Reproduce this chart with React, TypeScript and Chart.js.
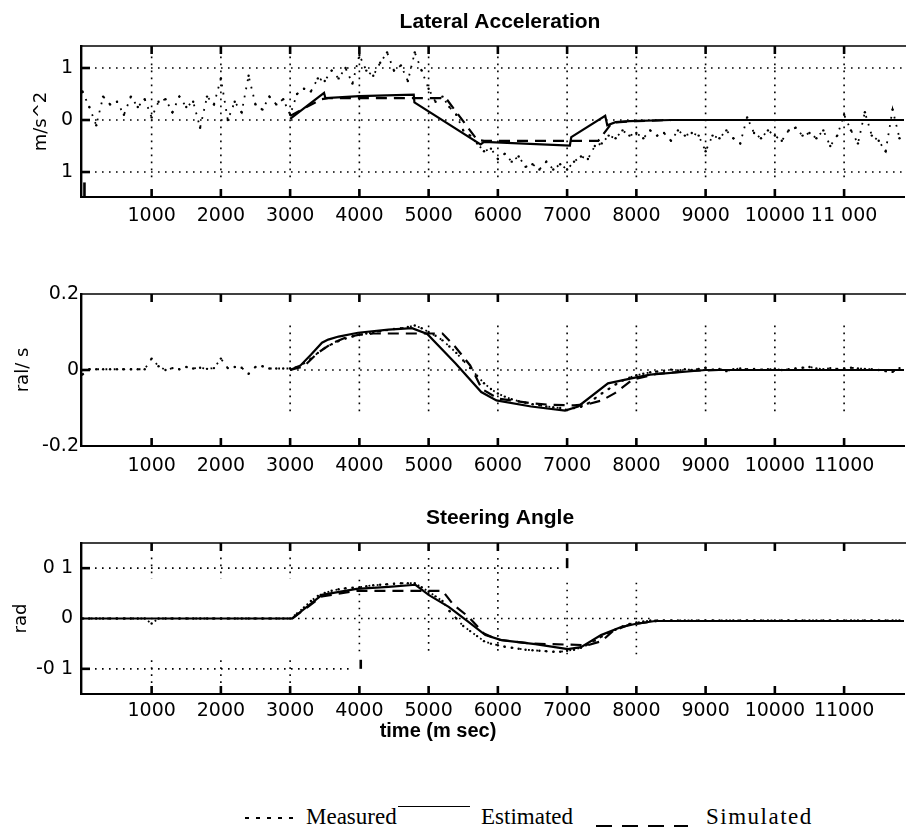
import React, { useEffect, useRef } from "react";
import { Chart, registerables } from "chart.js";

Chart.register(...registerables);

// ---------- shared sample times of the measured signals (ms) ----------
const MEAS_T = [
  0, 100, 200, 300, 400, 500, 600, 700, 800, 900,
  1000, 1100, 1200, 1300, 1400, 1500, 1600, 1700, 1800, 1900,
  2000, 2100, 2200, 2300, 2400, 2500, 2600, 2700, 2800, 2900,
  3000, 3100, 3200, 3300, 3400, 3500, 3600, 3700, 3800, 3900,
  4000, 4100, 4200, 4300, 4400, 4500, 4600, 4700, 4800, 4900,
  5000, 5100, 5200, 5300, 5400, 5500, 5600, 5700, 5800, 5900,
  6000, 6100, 6200, 6300, 6400, 6500, 6600, 6700, 6800, 6900,
  7000, 7100, 7200, 7300, 7400, 7500, 7600, 7700, 7800, 7900,
  8000, 8100, 8200, 8300, 8400, 8500, 8600, 8700, 8800, 8900,
  9000, 9100, 9200, 9300, 9400, 9500, 9600, 9700, 9800, 9900,
  10000, 10100, 10200, 10300, 10400, 10500, 10600, 10700, 10800, 10900,
  11000, 11100, 11200, 11300, 11400, 11500, 11600, 11700, 11800,
];

// ---------- Lateral Acceleration (m/s^2) ----------
const ACC_MEAS = [
  0.55, 0.25, -0.1, 0.45, 0.3, 0.35, 0.1, 0.45, 0.25, 0.4,
  0.05, 0.35, 0.4, 0.15, 0.45, 0.25, 0.35, -0.15, 0.45, 0.3,
  0.8, 0.0, 0.35, 0.15, 0.85, 0.3, 0.2, 0.45, 0.3, 0.4,
  0.1, 0.5, 0.6, 0.55, 0.8, 0.75, 0.95, 0.8, 1.0, 0.7,
  1.25, 0.95, 0.85, 1.1, 1.3, 0.95, 1.05, 0.75, 1.3, 0.95,
  0.6, 0.35, 0.45, 0.25, 0.1, -0.2, -0.3, -0.45, -0.6, -0.55,
  -0.75, -0.65, -0.8, -0.7, -0.9, -0.85, -0.95, -0.8, -0.95, -0.85,
  -0.95, -0.8, -0.7, -0.75, -0.5, -0.45, -0.3, -0.35, -0.2, -0.3,
  -0.25, -0.35, -0.2, -0.3, -0.25, -0.4, -0.2, -0.3, -0.25, -0.3,
  -0.6, -0.3, -0.35, -0.2, -0.35, -0.45, 0.05, -0.25, -0.35, -0.2,
  -0.3, -0.4, -0.2, -0.15, -0.3, -0.25, -0.35, -0.2, -0.5, -0.3,
  0.1, -0.2, -0.45, 0.15, -0.3, -0.4, -0.6, 0.2, -0.35,
];
const ACC_EST_T = [3000, 3490, 3510, 4000, 4785, 4795, 5750, 5800, 7040, 7060, 7550, 7580, 7700, 7900, 8500, 11900];
const ACC_EST = [0.02, 0.52, 0.42, 0.46, 0.49, 0.34, -0.47, -0.42, -0.49, -0.33, 0.08, -0.1, -0.04, -0.02, 0.0, 0.0];
const ACC_SIM_T = [3000, 3450, 3550, 5250, 5700, 5800, 7450, 7650, 8000, 8500, 11900];
const ACC_SIM = [0.08, 0.4, 0.42, 0.42, -0.38, -0.4, -0.4, -0.05, -0.02, 0.0, 0.0];

// ---------- Yaw Rate (rad/s) ----------
const YAW_MEAS = [
  -0.012, 0.002, 0.002, 0.002, 0.002, 0.002, 0.002, 0.002, 0.002, 0.002,
  0.03, 0.01, 0.0, 0.005, 0.002, 0.008, 0.004, 0.006, 0.003, 0.005,
  0.03, 0.005, 0.008, 0.006, -0.01, 0.008, 0.01, 0.004, 0.004, 0.004,
  0.004, 0.008, 0.018, 0.03, 0.045, 0.058, 0.068, 0.076, 0.083, 0.088,
  0.092, 0.096, 0.099, 0.102, 0.105, 0.108, 0.11, 0.113, 0.117, 0.11,
  0.1, 0.09, 0.078, 0.062, 0.045, 0.025, 0.005, -0.015, -0.035, -0.05,
  -0.062, -0.07, -0.077, -0.082, -0.086, -0.09, -0.093, -0.096, -0.098, -0.1,
  -0.105, -0.1, -0.097, -0.088, -0.075, -0.062, -0.05, -0.038, -0.028, -0.02,
  -0.014, -0.01, -0.006, -0.004, -0.002, 0.001, -0.001, 0.002, 0.0, 0.003,
  0.006, 0.001, 0.003, -0.003, 0.002, 0.004, 0.002, 0.003, 0.001, 0.002,
  0.003, 0.0, 0.002, 0.004, 0.006, 0.008, 0.004, 0.002, 0.005, 0.003,
  0.004, 0.006, 0.004, 0.003, 0.002, 0.0, -0.003, -0.005, 0.005,
];
const YAW_EST_T = [3000, 3150, 3300, 3460, 3550, 3700, 3980, 4420, 4760, 4980, 5390, 5760, 5980, 6480, 6970, 7160, 7590, 7980, 8200, 9000, 11900];
const YAW_EST = [0.0, 0.012, 0.04, 0.072, 0.08, 0.088, 0.098, 0.106, 0.11, 0.095, 0.017, -0.058, -0.08, -0.096, -0.107, -0.096, -0.035, -0.02, -0.012, 0.0, 0.0];
const YAW_SIM_T = [3000, 3200, 3400, 3600, 3800, 4000, 4200, 5200, 5380, 5600, 5770, 6000, 6500, 6800, 7100, 7300, 7500, 7690, 7950, 8300, 8800, 9200, 11900];
const YAW_SIM = [0.0, 0.01, 0.045, 0.07, 0.085, 0.093, 0.096, 0.096, 0.062, 0.012, -0.05, -0.075, -0.088, -0.092, -0.093, -0.09, -0.08, -0.061, -0.025, -0.01, -0.002, 0.0, 0.0];

// ---------- Steering Angle (rad) ----------
const STEER_MEAS = [
  0, 0, 0, 0, 0, 0, 0, 0, 0, 0,
  -0.01, 0, 0, 0, 0, 0, 0, 0, 0, 0,
  0, 0, 0, 0, 0, 0, 0, 0, 0, 0,
  0, 0.01, 0.022, 0.035, 0.045, 0.051, 0.055, 0.058, 0.06, 0.061,
  0.062, 0.064, 0.066, 0.067, 0.068, 0.069, 0.07, 0.07, 0.07, 0.062,
  0.053, 0.044, 0.035, 0.015, 0.0, -0.015, -0.025, -0.035, -0.045, -0.05,
  -0.053, -0.056, -0.058, -0.06, -0.062, -0.063, -0.064, -0.065, -0.066, -0.066,
  -0.064, -0.062, -0.058, -0.052, -0.044, -0.036, -0.028, -0.022, -0.016, -0.011,
  -0.008, -0.006, -0.004, -0.004, -0.004, -0.004, -0.004, -0.004, -0.004, -0.004,
  -0.004, -0.004, -0.004, -0.004, -0.004, -0.004, -0.004, -0.004, -0.004, -0.004,
  -0.004, -0.004, -0.004, -0.004, -0.004, -0.004, -0.004, -0.004, -0.004, -0.004,
  -0.004, -0.004, -0.004, -0.004, -0.004, -0.004, -0.004, -0.004, -0.004,
];
const STEER_EST_T = [0, 3030, 3460, 3960, 4420, 4810, 5000, 5290, 5580, 5820, 6050, 6540, 7010, 7200, 7490, 7780, 7980, 8270, 11900];
const STEER_EST = [0.0, 0.0, 0.047, 0.059, 0.063, 0.067, 0.047, 0.023, -0.007, -0.033, -0.043, -0.051, -0.061, -0.057, -0.033, -0.017, -0.011, -0.005, -0.005];
const STEER_SIM_T = [3030, 3460, 3960, 4100, 5200, 5360, 5580, 5800, 6000, 6500, 7300, 7500, 7660, 7900, 8300];
const STEER_SIM = [0.0, 0.044, 0.055, 0.055, 0.055, 0.027, 0.003, -0.03, -0.042, -0.05, -0.053, -0.045, -0.025, -0.012, -0.005];

// ---------- axes / text ----------
const X_TICKS = [1000, 2000, 3000, 4000, 5000, 6000, 7000, 8000, 9000, 10000, 11000];
const X_LABELS_ACC = ["1000", "2000", "3000", "4000", "5000", "6000", "7000", "8000", "9000", "10000", "11 000"];
const X_LABELS_YAW = ["1000", "2000", "3000", "4000", "5000", "6000", "7000", "8000", "9000", "10000", "11000"];
const X_LABELS_STEER = ["1000", "2000", "3000", "4000", "5000", "6000", "7000", "8000", "9000", "10000", "11000"];
const Y_TICKS_ACC = [-1, 0, 1];
const Y_LABELS_ACC = ["1", "0", "1"];
const Y_TICKS_YAW = [-0.2, 0, 0.2];
const Y_LABELS_YAW = ["-0.2", "0", "0.2"];
const Y_TICKS_STEER = [-0.1, 0, 0.1];
const Y_LABELS_STEER = ["-0 1", "0", "0 1"];

const TITLES = ["Lateral Acceleration", "Yaw Rate", "Steering Angle"];
const Y_TITLES = ["m/s^2", "ral/ s", "rad"];
const X_TITLE = "time (m sec)";
const LEGEND = ["Measured", "Estimated", "Simulated"];

const X_MIN = -20;
const X_MAX = 11865;

const pts = (xs: number[], ys: number[]) => xs.map((x, i) => ({ x, y: ys[i] }));

type Seg = { at: number; from: number; to: number };

interface PanelCfg {
  top: number;
  height: number;
  areaTop: number;
  areaBottom: number;
  yMin: number;
  yMax: number;
  meas: number[];
  estT: number[];
  est: number[];
  simT: number[];
  sim: number[];
  xLabels: string[];
  yTicks: number[];
  yLabels: string[];
  title: string;
  titleY: number;
  yTitle: string;
  yTitleSize: number;
  yTitlePad: number;
  yLabelPad: number;
  xLabelPad: number;
  hGrid: Seg[];
  vGrid: Seg[];
  marks: Seg[];
  yTickMarks: number[];
  extraText?: { text: string; x: number; y: number };
}

const DOT_DASH = [1.6, 5.4];

function makeDecor(cfg: PanelCfg) {
  return {
    id: "decor",
    beforeDatasetsDraw(chart: any) {
      const { ctx, scales } = chart;
      const x = scales.x;
      const y = scales.y;
      ctx.save();
      ctx.strokeStyle = "#000";
      ctx.lineWidth = 1.6;
      ctx.setLineDash(DOT_DASH);
      for (const s of cfg.hGrid) {
        const py = y.getPixelForValue(s.at);
        ctx.beginPath();
        ctx.moveTo(x.getPixelForValue(s.from), py);
        ctx.lineTo(x.getPixelForValue(s.to), py);
        ctx.stroke();
      }
      for (const s of cfg.vGrid) {
        const px = x.getPixelForValue(s.at);
        ctx.beginPath();
        ctx.moveTo(px, y.getPixelForValue(s.to));
        ctx.lineTo(px, y.getPixelForValue(s.from));
        ctx.stroke();
      }
      ctx.setLineDash([]);
      ctx.lineWidth = 2.6;
      for (const s of cfg.marks) {
        const px = x.getPixelForValue(s.at);
        ctx.beginPath();
        ctx.moveTo(px, y.getPixelForValue(s.to));
        ctx.lineTo(px, y.getPixelForValue(s.from));
        ctx.stroke();
      }
      ctx.restore();
    },
    afterDraw(chart: any) {
      const { ctx, chartArea, scales } = chart;
      const x = scales.x;
      const y = scales.y;
      ctx.save();
      ctx.strokeStyle = "#000";
      ctx.setLineDash([]);
      // top border
      ctx.lineWidth = 1.6;
      ctx.beginPath();
      ctx.moveTo(chartArea.left, chartArea.top);
      ctx.lineTo(chartArea.right + 2, chartArea.top);
      ctx.stroke();
      // inward x tick marks
      ctx.lineWidth = 2.6;
      for (const t of X_TICKS) {
        const px = x.getPixelForValue(t);
        ctx.beginPath();
        ctx.moveTo(px, chartArea.top);
        ctx.lineTo(px, chartArea.top + 8);
        ctx.moveTo(px, chartArea.bottom);
        ctx.lineTo(px, chartArea.bottom - 8);
        ctx.stroke();
      }
      // inward y tick marks
      for (const v of cfg.yTickMarks) {
        const py = y.getPixelForValue(v);
        ctx.beginPath();
        ctx.moveTo(chartArea.left, py);
        ctx.lineTo(chartArea.left + 9, py);
        ctx.stroke();
      }
      // panel title
      ctx.fillStyle = "#000";
      ctx.font = "bold 21px 'Liberation Sans', Arial, sans-serif";
      ctx.textAlign = "center";
      ctx.textBaseline = "middle";
      ctx.fillText(cfg.title, 500, cfg.titleY);
      if (cfg.extraText) {
        ctx.font = "bold 20px 'Liberation Sans', Arial, sans-serif";
        ctx.fillText(cfg.extraText.text, cfg.extraText.x, cfg.extraText.y);
      }
      ctx.restore();
    },
  };
}

function Panel({ cfg }: { cfg: PanelCfg }) {
  const ref = useRef<HTMLCanvasElement | null>(null);
  useEffect(() => {
    const canvas = ref.current;
    if (!canvas) return;
    const areaTopInCanvas = cfg.areaTop - cfg.top;
    const xAxisHeight = cfg.height - (cfg.areaBottom - cfg.top);
    const chart = new Chart(canvas, {
      type: "line",
      data: {
        datasets: [
          {
            label: LEGEND[0],
            data: pts(MEAS_T, cfg.meas),
            borderColor: "#000",
            borderWidth: 1.8,
            borderDash: [1.8, 6.5],
            pointRadius: 1.2,
            pointBorderWidth: 0,
            pointBackgroundColor: "#000",
            tension: 0,
            fill: false,
          },
          {
            label: LEGEND[1],
            data: pts(cfg.estT, cfg.est),
            borderColor: "#000",
            borderWidth: 2.2,
            pointRadius: 0,
            tension: 0,
            fill: false,
          },
          {
            label: LEGEND[2],
            data: pts(cfg.simT, cfg.sim),
            borderColor: "#000",
            borderWidth: 2.2,
            borderDash: [11, 7],
            pointRadius: 0,
            tension: 0,
            fill: false,
          },
        ],
      },
      options: {
        animation: false,
        responsive: false,
        maintainAspectRatio: false,
        layout: { padding: { top: areaTopInCanvas, right: 1, left: 0, bottom: 0 } },
        plugins: { legend: { display: false }, tooltip: { enabled: false }, title: { display: false } },
        scales: {
          x: {
            type: "linear",
            min: X_MIN,
            max: X_MAX,
            grid: { display: false, drawTicks: false },
            border: { display: true, color: "#000", width: 2 },
            afterBuildTicks: (s: any) => {
              s.ticks = X_TICKS.map((v) => ({ value: v }));
            },
            afterFit: (s: any) => {
              s.height = xAxisHeight;
            },
            ticks: {
              color: "#000",
              font: { family: "'DejaVu Sans', sans-serif", size: 19 },
              padding: cfg.xLabelPad,
              maxRotation: 0,
              autoSkip: false,
              callback: (v: any) => {
                const i = X_TICKS.indexOf(Number(v));
                return i >= 0 ? cfg.xLabels[i] : "";
              },
            },
          },
          y: {
            type: "linear",
            min: cfg.yMin,
            max: cfg.yMax,
            grid: { display: false, drawTicks: false },
            border: { display: true, color: "#000", width: 2.4 },
            afterBuildTicks: (s: any) => {
              s.ticks = cfg.yTicks.map((v) => ({ value: v }));
            },
            afterFit: (s: any) => {
              s.width = 81;
            },
            title: {
              display: true,
              text: cfg.yTitle,
              color: "#000",
              font: { family: "'DejaVu Sans', sans-serif", size: cfg.yTitleSize },
              padding: { top: cfg.yTitlePad, bottom: 0 },
            },
            ticks: {
              color: "#000",
              font: { family: "'DejaVu Sans', sans-serif", size: 19 },
              padding: cfg.yLabelPad,
              autoSkip: false,
              callback: (v: any) => {
                const i = cfg.yTicks.findIndex((t) => Math.abs(t - Number(v)) < 1e-9);
                return i >= 0 ? cfg.yLabels[i] : "";
              },
            },
          },
        },
      },
      plugins: [makeDecor(cfg)],
    } as any);
    return () => chart.destroy();
  }, [cfg]);
  return (
    <canvas
      ref={ref}
      width={908}
      height={cfg.height}
      style={{ position: "absolute", left: 0, top: cfg.top, width: 908, height: cfg.height }}
    />
  );
}

const xAll = (vals: number[], from: number, to: number): Seg[] => vals.map((v) => ({ at: v, from, to }));

const PANEL_CFGS: PanelCfg[] = [
  {
    top: 0,
    height: 240,
    areaTop: 46,
    areaBottom: 197,
    yMin: -1.48,
    yMax: 1.423,
    meas: ACC_MEAS,
    estT: ACC_EST_T,
    est: ACC_EST,
    simT: ACC_SIM_T,
    sim: ACC_SIM,
    xLabels: X_LABELS_ACC,
    yTicks: Y_TICKS_ACC,
    yLabels: Y_LABELS_ACC,
    title: TITLES[0],
    titleY: 22,
    yTitle: Y_TITLES[0],
    yTitleSize: 18,
    yTitlePad: 31,
    yLabelPad: 8,
    xLabelPad: 8,
    hGrid: xAll([1, 0, -1], X_MIN, X_MAX),
    vGrid: xAll(X_TICKS, -1.2, 1.22),
    marks: [{ at: 30, from: -1.48, to: -1.2 }],
    yTickMarks: [1, 0, -1],
  },
  {
    top: 240,
    height: 245,
    areaTop: 294,
    areaBottom: 446,
    yMin: -0.2,
    yMax: 0.2,
    meas: YAW_MEAS,
    estT: YAW_EST_T,
    est: YAW_EST,
    simT: YAW_SIM_T,
    sim: YAW_SIM,
    xLabels: X_LABELS_YAW,
    yTicks: Y_TICKS_YAW,
    yLabels: Y_LABELS_YAW,
    title: TITLES[1],
    titleY: 270,
    yTitle: Y_TITLES[1],
    yTitleSize: 18,
    yTitlePad: 13,
    yLabelPad: 2,
    xLabelPad: 9,
    hGrid: [{ at: 0, from: 3000, to: X_MAX }],
    vGrid: xAll([3000, 4000, 5000, 6000, 7000, 8000, 9000, 10000, 11000], -0.117, 0.117),
    marks: [],
    yTickMarks: [0],
  },
  {
    top: 485,
    height: 265,
    areaTop: 543,
    areaBottom: 694,
    yMin: -0.15,
    yMax: 0.15,
    meas: STEER_MEAS,
    estT: STEER_EST_T,
    est: STEER_EST,
    simT: STEER_SIM_T,
    sim: STEER_SIM,
    xLabels: X_LABELS_STEER,
    yTicks: Y_TICKS_STEER,
    yLabels: Y_LABELS_STEER,
    title: TITLES[2],
    titleY: 518 - 485,
    yTitle: Y_TITLES[2],
    yTitleSize: 18,
    yTitlePad: 11,
    yLabelPad: 8,
    xLabelPad: 6,
    hGrid: [
      { at: 0.1, from: X_MIN, to: 6950 },
      { at: 0, from: X_MIN, to: 8200 },
      { at: -0.1, from: X_MIN, to: 3900 },
    ],
    vGrid: [
      ...xAll([1000, 2000, 3000], 0.079, 0.121),
      ...xAll([1000, 2000, 3000], -0.137, -0.083),
      { at: 4000, from: -0.073, to: 0.077 },
      ...xAll([5000, 6000], -0.073, 0.12),
      ...xAll([7000, 8000], -0.074, 0.071),
    ],
    marks: [
      { at: 7000, from: 0.1, to: 0.12 },
      { at: 4020, from: -0.1, to: -0.082 },
    ],
    yTickMarks: [0.1, -0.1],
    extraText: { text: X_TITLE, x: 438, y: 731 - 485 },
  },
];

const serif = "'Liberation Serif', 'Times New Roman', serif";

export default function App() {
  return (
    <div style={{ position: "absolute", left: 0, top: 0, width: 908, height: 835, background: "#fff", overflow: "hidden" }}>
      {PANEL_CFGS.map((c, i) => (
        <Panel key={i} cfg={c} />
      ))}
      {/* legend */}
      <div
        style={{
          position: "absolute",
          left: 245,
          top: 817,
          width: 55,
          height: 1.5,
          background: "repeating-linear-gradient(to right, #000 0 4px, transparent 4px 11px)",
        }}
      />
      <div style={{ position: "absolute", left: 306, top: 804, font: `23px ${serif}`, lineHeight: "26px", color: "#000" }}>
        {LEGEND[0]}
      </div>
      <div style={{ position: "absolute", left: 398, top: 806, width: 72, height: 1.2, background: "#000" }} />
      <div style={{ position: "absolute", left: 481, top: 804, font: `23px ${serif}`, lineHeight: "26px", color: "#000" }}>
        {LEGEND[1]}
      </div>
      <div
        style={{
          position: "absolute",
          left: 596,
          top: 825,
          width: 92,
          height: 2,
          background: "repeating-linear-gradient(to right, #000 0 16px, transparent 16px 26px)",
        }}
      />
      <div style={{ position: "absolute", left: 706, top: 804, font: `23px ${serif}`, lineHeight: "26px", color: "#000", letterSpacing: "1.5px" }}>
        {LEGEND[2]}
      </div>
    </div>
  );
}
